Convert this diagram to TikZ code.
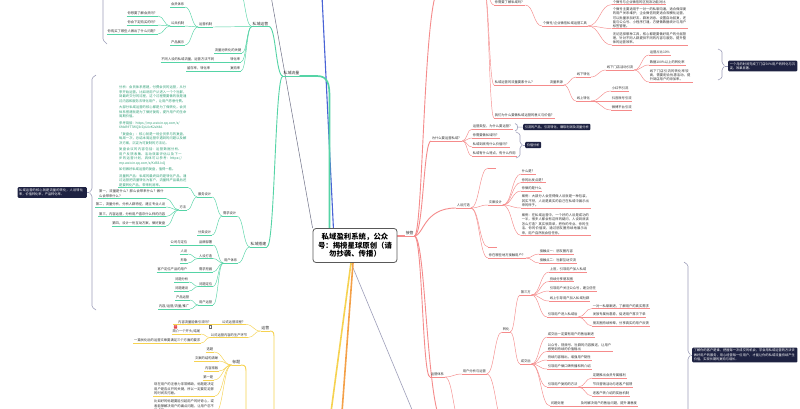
\documentclass[tikz,border=0pt]{standalone}
\usepackage{fontspec}
\setmainfont{Noto Sans CJK SC}
\usetikzlibrary{calc,backgrounds}
\XeTeXlinebreaklocale "zh"
\XeTeXlinebreakskip=0pt plus 0.5pt
\definecolor{gc}{HTML}{55D4A6}
\definecolor{gt}{HTML}{2F9F76}
\definecolor{rc}{HTML}{F58B8B}
\definecolor{yc}{HTML}{F6D250}
\definecolor{oc}{HTML}{F4A048}
\definecolor{bc}{HTML}{4963D6}
\definecolor{gy}{HTML}{9D9EB9}
\definecolor{dg}{HTML}{6E7086}
\definecolor{nv}{HTML}{1E2242}
\definecolor{tx}{HTML}{303030}
\definecolor{icr}{HTML}{E5484D}
\newcommand\conn[3][]{\draw[#1] let \p1=(#2), \p2=(#3) in (\p1) .. controls ({0.5*\x1+0.5*\x2},\y1) and ({0.5*\x1+0.5*\x2},\y2) .. (\p2);}
\newcommand\connd[4][]{\draw[#1] let \p1=(#2), \p2=(#3) in (\p1) .. controls ({\x1+#4pt},\y1) and ({\x1+#4pt},\y2) .. (\p2);}
\tikzset{
  base/.style={inner sep=0.6pt, font=\fontsize{3.3}{4.1}\selectfont, text=tx},
  ul/.style={append after command={(\tikzlastnode.south west) edge[draw=#1, line width=.45pt] (\tikzlastnode.south east)}},
  G/.style={base, ul=gc, anchor=south east},
  Rr/.style={base, ul=rc, anchor=south west},
  Y/.style={base, ul=yc, anchor=south east},
  big/.style={font=\fontsize{3.9}{4.6}\selectfont},
  para/.style={align=left, text width=#1, font=\fontsize{3.3}{4.5}\selectfont},
  note/.style={fill=nv, text=white, rounded corners=1pt, inner sep=1.6pt, font=\fontsize{3.2}{4.3}\selectfont, align=left},
  gl/.style={draw=gc, line width=.45pt},
  rl/.style={draw=rc, line width=.45pt},
  yl/.style={draw=yc, line width=.45pt},
  gm/.style={draw=gc, line width=.9pt},
  rm/.style={draw=rc, line width=.9pt},
  ym/.style={draw=yc, line width=.9pt},
  brk/.style={draw=gy, line width=.6pt, rounded corners=1.2pt},
  rootbox/.style={draw=black!65, line width=.8pt, fill=white, rounded corners=3pt,
    font=\fontsize{7.4}{8.6}\selectfont\bfseries, align=center, text=black,
    inner xsep=5pt, minimum height=34pt}
}
\begin{document}
\begin{tikzpicture}[x=1pt,y=-1pt]
\useasboundingbox (0,0) rectangle (800,408);

% ---------- root ----------
\node[rootbox] (root) at (355,245.5) {私域盈利系统，公众\\号：揭榜星球原创（请\\勿抄袭、传播）};

% ---------- green subtree ----------
\node[G,big] (gA) at (300,76) {私域流量};
\node[G,big] (gB) at (269,26.5) {私域运营};
\node[G,big] (gC) at (267,247) {私域搭建};
\coordinate (gB0) at (238,-12);
\node[G] (gB1) at (213,27) {运营机制};
\node[G] (gB2) at (242,53) {流量池转化的关键};
\node[G] (gB3) at (241,62) {转化率};
\node[G] (gB4) at (241,71) {复购率};
\node[G] (gB1a) at (185,7) {会员体系};
\node[G] (gB1b) at (185,26) {公共机制};
\node[G] (gB1c) at (185,45) {产品展示};
\node[G] (gB1b1) at (158,16) {你想要了解会员吗？};
\node[G] (gB1b2) at (158,25) {你会下定购买的吗？};
\node[G] (gB1b3) at (158,34) {你购买了哪些人做出了什么问题？};
\node[G] (gB3a) at (215,62) {不同人设的私域流量，运营方法不同};
\node[G] (gB4a) at (211,71) {留存率，转化率};

\node[G] (gC1) at (237,216) {需求设计};
\node[G] (gC2) at (238,263) {用户体系};
\node[G] (gC1a) at (212,197) {服务设计};
\node[G] (gC1b) at (212,235) {分类设计};
\node[G, para=68pt, text=gt] (gP) at (188,187.5) {分析：会员体系搭建，付费会员的运营，从分享开始运营。比如说用户从进入一个个社群，到最终交付的过程，这个过程需要做的就是通过内容和服务去转化用户，让用户愿意付费。\\[2pt]
大部分私域运营的核心都是为了做转化，会员体系搭建就是为了做好复购，提升用户的生命周期价值。\\[2pt]
参考链接：https://mp.weixin.qq.com/s/\\6MxB9T7WQ3rZpL0vK2aYdA\\[2pt]
「复盘会」：核心就是一场全员参与的复盘，每周一次，总结本周运营中遇到的问题以及解决方案，沉淀为可复制的方法论。\\[2pt]
复盘会议的内容包括：运营数据分析、用户反馈收集、活动效果评估以及下一步的运营计划，具体可以参考：https://mp.weixin.qq.com/s/Kd83JxQ\\[2pt]
如何做好私域运营的复盘，值得一看。\\[2pt]
流量转产品：私域的最终目的是转化产品，通过运营把流量转化为客户，流量转产品最后还是要转化产品，带来利润率。};
\node[G] (gM) at (187,210) {方法};
\node[G, para=66pt] (gM1) at (166,198.5) {第一，流量是什么？那么会带来什么？做什么会带来什么？};
\node[G] (gM2) at (166,207) {第二，流量分析，分析人群特征，建立专业人设};
\node[G] (gM3) at (166,216.5) {第三，内容运营，分析用户喜欢什么样的内容};
\node[G] (gM4) at (166,226) {第四，设计一份互动方案，做好复盘};

\node[G] (gD1) at (213,245) {品牌部署};
\node[G] (gD2) at (213,258.5) {人设打造};
\node[G] (gD3) at (213,272) {需求挖掘};
\node[G] (gD4) at (213,286.5) {问题定位};
\node[G] (gD5) at (213,305) {用户运营};
\node[G] (gD1a) at (188,245) {公司与定位};
\node[G] (gD2a) at (188,254) {人设};
\node[G] (gD2b) at (188,263) {形象};
\node[G] (gD3a) at (188,272) {客户定位产品的用户};
\node[G] (gD4a) at (189,282) {问题分析};
\node[G] (gD4b) at (189,291) {问题建设};
\node[G] (gD5a) at (190,300) {产品运营};
\node[G] (gD5b) at (190,309) {内容/运营/流量/推广};

\node[note, text width=66pt, anchor=east] (gN) at (87,192.5) {私域运营的核心就是流量的转化，人设转化率，价值转化率，产品转化率。};
\coordinate (gK1) at (96,75);
\coordinate (gK2) at (89,192.5);
\coordinate (gK3) at (96,310);

% ---------- red subtree ----------
\node[Rr,big] (rA) at (405,236) {接管};
\coordinate (rTs) at (440,-12);
\coordinate (rTe) at (484,-12);
\coordinate (rBot) at (445,425);
\node[Rr] (rT1) at (494,5) {你需要了解私域吗？};
\node[Rr] (rT1a) at (542,26) {个微号/企业微信私域运营工具};
\node[Rr] (rT1a1) at (612,4.5) {个微号与企业微信的区别及功能对比};
\node[Rr, para=74pt, font=\fontsize{3.3}{4.2}\selectfont] (rT1a2) at (612,28.5) {个微号主要适用于一对一的私聊沟通，适合做深度的用户关系维护；企业微信则更适合规模化运营，可以批量添加好友、群发消息、设置自动回复，还能与公众号、小程序打通，方便做数据统计与用户标签管理。};
\node[Rr, para=74pt, font=\fontsize{3.3}{4.2}\selectfont] (rT1a3) at (612,45) {无论选择哪种工具，核心都是要做好用户的分层管理，针对不同人群提供不同的内容与服务，提升整体的运营效率。};
\node[Rr] (rT2) at (494,85) {私域运营的流量要素什么？};
\node[Rr] (rT2a) at (549,85) {流量来源};
\node[Rr] (rT2b) at (576,77) {线下转化};
\node[Rr] (rT2c) at (576,101) {线上转化};
\node[Rr] (rT2b1) at (606,70) {线下门店活动引流};
\node[Rr] (rT2b1a) at (649,55) {运营占比10\%};
\node[Rr] (rT2b1b) at (649,65) {数据100\%以上的转化率};
\node[Rr, para=42pt, font=\fontsize{3.3}{4.2}\selectfont] (rT2b1c) at (649,82) {线下门店引流的转化率较高，需要配合优惠活动，提升到店用户的添加率。};
\node[note, text width=66pt, anchor=west] (rN1) at (728,66) {一个月的时间完成了门店50\%用户的转化与沉淀，效果显著。};
\node[Rr] (rT2c1) at (611,91) {小红书引流};
\node[Rr] (rT2c2) at (611,101) {抖音账号引流};
\node[Rr] (rT2c3) at (611,110) {微博平台引流};
\node[Rr] (rT3) at (494,118) {我们为什么要做私域运营的意义与价值？};

\node[Rr] (rA1) at (431,141) {为什么要运营私域？};
\node[Rr] (rA1a) at (472,129) {运营类型，为什么要运营？};
\node[Rr] (rA1b) at (472,138) {你需要做私域吗？};
\node[Rr] (rA1c) at (472,147) {私域到底有什么价值吗？};
\node[Rr] (rA1d) at (472,156) {私域有什么特点，有什么作用};
\node[note, anchor=west] (rN2) at (523,127) {引流的产品，引流转化，赚取利润及流量分析};
\node[note, anchor=west] (rN3) at (525,145) {价值分析};

\node[Rr] (rA2) at (456,208) {人设打造};
\node[Rr, minimum width=8pt] (rA2a) at (488,168) {};
\node[Rr] (rA2b) at (488,205) {文案设计};
\node[Rr, minimum width=9pt] (rA2c) at (488,247) {};
\node[Rr] (rA2d) at (488,258) {你在哪些地方接触用户？};
\node[Rr] (rB1) at (521,174) {什么是？};
\node[Rr] (rB2) at (521,182.5) {你的出发点是？};
\node[Rr] (rB3) at (521,191) {你做的是什么};
\node[Rr, para=68pt] (rB4) at (521,208) {案例：大部分人会觉得做人设就是一种包装，其实不然，人设是真实的自己在私域中展示出来的样子。};
\node[Rr, para=68pt] (rB5) at (521,235.5) {案例：在私域运营中，一个好的人设是成功的一半，很多人都会有这样的疑问，人设到底该怎么打造？其实很简单，把你的专业、你的生活、你的价值观，通过朋友圈持续地展示出来，用户自然就会信任你。};
\node[Rr] (rB6a) at (539,254) {接触点一：朋友圈内容};
\node[Rr] (rB6b) at (539,263) {接触点二：社群互动交流};

\node[Rr] (rA3) at (430,377) {运营体系};
\node[Rr] (rC) at (462,374) {用户分析与运营};
\coordinate (rA3o) at (462,425);
\coordinate (rCo) at (505,425);
\node[Rr] (rD) at (502,332) {转化};
\node[Rr] (rE1) at (520,295) {第三方};
\node[Rr] (rE2) at (520,364) {成交后};
\node[Rr] (rF1) at (549,272) {上官，引导用户加入私域};
\node[Rr] (rF2) at (549,281.5) {持续分享朋友圈};
\node[Rr] (rF3) at (549,291) {引导用户关注公众号，建立信任};
\node[Rr] (rF4) at (549,301) {线上引导用户加入私域社群};
\node[Rr] (rF5) at (547,317) {引导用户进入私域后};
\node[Rr] (rF5a) at (592,308.5) {一对一私聊跟进，了解用户的真实需求};
\node[Rr] (rF5b) at (592,317) {发放专属优惠券，促进用户首次下单};
\node[Rr] (rF5c) at (592,326) {朋友圈持续种草，分享真实的用户反馈};
\node[Rr] (rG1) at (547,337) {成交后一定要有用户的售后跟进};
\node[Rr, para=64pt, font=\fontsize{3.3}{4.2}\selectfont] (rG2) at (547,351.5) {公众号、视频号、社群的内容推送，让用户感受到持续的价值输出};
\node[Rr] (rG3) at (547,360) {持续内容输出，增强用户黏性};
\node[Rr] (rG4) at (547,369) {引导用户做口碑传播和转介绍};
\node[Rr] (rG5) at (547,387) {引导用户复购的方法};
\node[Rr] (rG5a) at (592,378) {定期推出会员专属福利};
\node[Rr] (rG5b) at (592,387) {节日营销活动与老客户回馈};
\node[Rr] (rG5c) at (592,396) {老客户转介绍的奖励机制};
\node[Rr] (rG6) at (550,406) {问题处理};
\node[Rr] (rG6a) at (580,406) {及时解决用户的售后问题，提升满意度};
\node[note, text width=102pt, anchor=west] (rN4) at (692,355) {了解你的客户是谁，把握每一次成交的机会，学会用私域运营的方法去做好用户的服务，用心经营每一位用户，才能让你的私域流量持续产生价值，实现长期的复购与增长。};

% ---------- yellow subtree ----------
\node[Y,big] (yA) at (270,331) {运营};
\node[Y] (yA1) at (246,324.5) {公式运营流程？};
\node[Y] (yA2) at (248,337.5) {公式运营内容的生产环节};
\node[Y] (yA1a) at (212,324.5) {\hspace{4.4pt}内容流量能做引流吗？\hspace{4pt}};
\node[fill=icr, inner sep=0pt, minimum size=3.4pt, rounded corners=.5pt, anchor=west, text=white, font=\fontsize{3}{3}\selectfont] (ic1) at ([xshift=0.6pt,yshift=-2.4pt]yA1a.south west) {×};
\node[draw=tx!70, line width=.3pt, inner sep=0pt, minimum size=2.6pt, anchor=east] (ic2) at ([xshift=-0.6pt,yshift=-2.4pt]yA1a.south east) {};
\node[Y] (yA2a) at (201,334) {简介一个开头/结尾};
\node[Y] (yA2b) at (201,343) {一篇优化后的运营文章要满足三个方面的要求};
\node[Y,big] (yB) at (241,365) {标题};
\node[Y] (yB1) at (214,352) {选题};
\node[Y] (yB2) at (219,361) {文案的结构清晰};
\node[Y] (yB3) at (219,371) {内容排版};
\node[Y] (yB4) at (214,380) {第一是};
\node[Y, para=60pt] (yB5) at (215,396) {现在用户的注意力非常稀缺，标题是决定用户是否点开的关键，所以一定要花足够的时间去打磨。};
\node[Y, para=60pt] (yB6) at (215,413) {比如好的标题要能引起用户的好奇心，或者能够解决用户的痛点问题，让用户忍不住点开。};
\coordinate (yAo) at (274,412);
\coordinate (yBo) at (246,412);

% ---------- other level-1 branch ends ----------
\coordinate (dgTop) at (271,-4);
\coordinate (bTop) at (322,-4);
\coordinate (bBot) at (334,240);
\coordinate (yEnd) at (331,412);
\coordinate (oEnd) at (342,412);
\coordinate (gyEnd) at (413,412);
\coordinate (gAk) at (329.5,98);

\begin{scope}[on background layer]
\fill[white] (0,0) rectangle (800,408);
% level-1 branches from root
\draw[dg, line width=.5pt] (dgTop) -- (root.north west);
\draw[bc, line width=1.1pt] (bTop) -- (bBot);
\draw[gc, line width=1.7pt, line cap=round] (gA.south east) -- ++(17,0) .. controls +(11,0) and +(0,-14) .. (gAk) -- (gAk |- root.center);
\draw[rc, line width=1.7pt] (root.center |- rA.south west) -- (rA.south west);
\draw[gy, line width=.6pt] ([xshift=-4pt]root.south) -- (gyEnd);
\draw[yc, line width=1.6pt] ([xshift=-4pt]root.south) -- (yEnd);
\draw[oc, line width=1.6pt] ([xshift=-2pt]root.south) -- (oEnd);

% green
\conn[gm]{gA.south west}{gB.south east}
\conn[gm]{gA.south west}{gC.south east}
\conn[gl]{gB.south west}{gB0}
\conn[gl]{gB.south west}{gB1.south east}
\conn[gl]{gB.south west}{gB2.south east}
\conn[gl]{gB.south west}{gB3.south east}
\conn[gl]{gB.south west}{gB4.south east}
\conn[gl]{gB1.south west}{gB1a.south east}
\conn[gl]{gB1.south west}{gB1b.south east}
\conn[gl]{gB1.south west}{gB1c.south east}
\conn[gl]{gB1b.south west}{gB1b1.south east}
\conn[gl]{gB1b.south west}{gB1b2.south east}
\conn[gl]{gB1b.south west}{gB1b3.south east}
\conn[gl]{gB3.south west}{gB3a.south east}
\conn[gl]{gB4.south west}{gB4a.south east}
\conn[gl]{gC.south west}{gC1.south east}
\conn[gl]{gC.south west}{gC2.south east}
\conn[gl]{gC1.south west}{gC1a.south east}
\conn[gl]{gC1.south west}{gC1b.south east}
\conn[gl]{gC1a.south west}{gP.south east}
\conn[gl]{gC1a.south west}{gM.south east}
\conn[gl]{gM.south west}{gM1.south east}
\conn[gl]{gM.south west}{gM2.south east}
\conn[gl]{gM.south west}{gM3.south east}
\conn[gl]{gM.south west}{gM4.south east}
\conn[gl]{gC2.south west}{gD1.south east}
\conn[gl]{gC2.south west}{gD2.south east}
\conn[gl]{gC2.south west}{gD3.south east}
\conn[gl]{gC2.south west}{gD4.south east}
\conn[gl]{gC2.south west}{gD5.south east}
\conn[gl]{gD1.south west}{gD1a.south east}
\conn[gl]{gD2.south west}{gD2a.south east}
\conn[gl]{gD2.south west}{gD2b.south east}
\conn[gl]{gD3.south west}{gD3a.south east}
\conn[gl]{gD4.south west}{gD4a.south east}
\conn[gl]{gD4.south west}{gD4b.south east}
\conn[gl]{gD5.south west}{gD5a.south east}
\conn[gl]{gD5.south west}{gD5b.south east}
% brackets
\draw[brk] (103,-5) -- (103,40) -- (107,44);
\draw[brk] (gK1) -- (92,78) -- (92,189.5) -- (gK2) -- (92,195.5) -- (92,307) -- (gK3);
\draw[gy, line width=.5pt] (gK2) -- (gN.east);

% red
\connd[rm]{rA.south east}{rTs}{9}
\connd[rm]{rA.south east}{rA1.south west}{9}
\connd[rm]{rA.south east}{rA2.south west}{9}
\connd[rm]{rA.south east}{rA3.south west}{8}
\connd[rm]{rA.south east}{rBot}{12}
\conn[rl]{rTe}{rT1.south west}
\conn[rl]{rTe}{rT2.south west}
\conn[rl]{rTe}{rT3.south west}
\conn[rl]{rT1.south east}{rT1a.south west}
\conn[rl]{rT1a.south east}{rT1a1.south west}
\conn[rl]{rT1a.south east}{rT1a2.south west}
\conn[rl]{rT1a.south east}{rT1a3.south west}
\conn[rl]{rT2.south east}{rT2a.south west}
\conn[rl]{rT2a.south east}{rT2b.south west}
\conn[rl]{rT2a.south east}{rT2c.south west}
\conn[rl]{rT2b.south east}{rT2b1.south west}
\conn[rl]{rT2b1.south east}{rT2b1a.south west}
\conn[rl]{rT2b1.south east}{rT2b1b.south west}
\conn[rl]{rT2b1.south east}{rT2b1c.south west}
\conn[rl]{rT2c.south east}{rT2c1.south west}
\conn[rl]{rT2c.south east}{rT2c2.south west}
\conn[rl]{rT2c.south east}{rT2c3.south west}
\conn[rl]{rA1.south east}{rA1a.south west}
\conn[rl]{rA1.south east}{rA1b.south west}
\conn[rl]{rA1.south east}{rA1c.south west}
\conn[rl]{rA1.south east}{rA1d.south west}
\conn[rl]{rA2.south east}{rA2a.south west}
\conn[rl]{rA2.south east}{rA2b.south west}
\conn[rl]{rA2.south east}{rA2c.south west}
\conn[rl]{rA2.south east}{rA2d.south west}
\conn[rl]{rA2b.south east}{rB1.south west}
\conn[rl]{rA2b.south east}{rB2.south west}
\conn[rl]{rA2b.south east}{rB3.south west}
\conn[rl]{rA2b.south east}{rB4.south west}
\conn[rl]{rA2b.south east}{rB5.south west}
\conn[rl]{rA2d.south east}{rB6a.south west}
\conn[rl]{rA2d.south east}{rB6b.south west}
\conn[rl]{rA3.south east}{rC.south west}
\conn[rl]{rA3.south east}{rA3o}
\conn[rl]{rC.south east}{rD.south west}
\conn[rl]{rC.south east}{rCo}
\conn[rl]{rD.south east}{rE1.south west}
\conn[rl]{rD.south east}{rE2.south west}
\conn[rl]{rE1.south east}{rF1.south west}
\conn[rl]{rE1.south east}{rF2.south west}
\conn[rl]{rE1.south east}{rF3.south west}
\conn[rl]{rE1.south east}{rF4.south west}
\conn[rl]{rE1.south east}{rF5.south west}
\conn[rl]{rF5.south east}{rF5a.south west}
\conn[rl]{rF5.south east}{rF5b.south west}
\conn[rl]{rF5.south east}{rF5c.south west}
\conn[rl]{rE2.south east}{rG1.south west}
\conn[rl]{rE2.south east}{rG2.south west}
\conn[rl]{rE2.south east}{rG3.south west}
\conn[rl]{rE2.south east}{rG4.south west}
\conn[rl]{rE2.south east}{rG5.south west}
\conn[rl]{rE2.south east}{rG6.south west}
\conn[rl]{rG5.south east}{rG5a.south west}
\conn[rl]{rG5.south east}{rG5b.south west}
\conn[rl]{rG5.south east}{rG5c.south west}
\conn[rl]{rG6.south east}{rG6a.south west}
% red-side brackets
\draw[brk] (515,123.5) .. controls (518.5,124) and (518.5,130.5) .. (515,131);
\draw[gy, line width=.5pt] (517.6,127.2) -- (rN2.west);
\draw[brk] (516,132) -- (520,134) -- (520,143) -- (523,145) -- (520,147) -- (520,156) -- (516,158);
\draw[gy, line width=.5pt] (523,145) -- (rN3.west);
\draw[brk] (718,49) -- (722,51) -- (722,63) -- (725,66) -- (722,69) -- (722,78) -- (718,80);
\draw[gy, line width=.5pt] (725,66) -- (rN1.west);
\draw[brk] (684,262) -- (688,265) -- (688,352) -- (691,355) -- (688,358) -- (688,450);
\draw[gy, line width=.5pt] (691,355) -- (rN4.west);

% yellow
\draw[ym] (yA.south east) .. controls (274,331) and (274,333) .. (274,340) -- (yAo);
\draw[ym] (yB.south east) .. controls (246,365) and (246,367) .. (246,374) -- (yBo);
\conn[yl]{yA.south west}{yA1.south east}
\conn[yl]{yA.south west}{yA2.south east}
\conn[yl]{yA1.south west}{yA1a.south east}
\conn[yl]{yA2.south west}{yA2a.south east}
\conn[yl]{yA2.south west}{yA2b.south east}
\conn[yl]{yB.south west}{yB1.south east}
\conn[yl]{yB.south west}{yB2.south east}
\conn[yl]{yB.south west}{yB3.south east}
\conn[yl]{yB.south west}{yB4.south east}
\conn[yl]{yB.south west}{yB5.south east}
\conn[yl]{yB.south west}{yB6.south east}
\end{scope}
\end{tikzpicture}
\end{document}
